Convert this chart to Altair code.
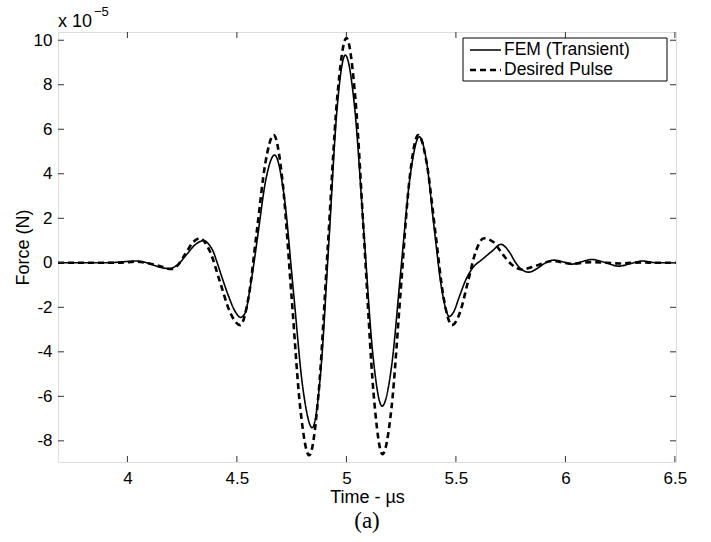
import altair as alt
import pandas as pd

# ---- values (force in units of 1e-5 N, time in µs) ----
fem_t = [3.683, 3.75, 3.85, 3.93, 3.97, 4.04, 4.0775, 4.115, 4.1525, 4.19, 4.23, 4.27, 4.31, 4.35,
         4.37, 4.392, 4.41, 4.434, 4.46, 4.49, 4.517, 4.54, 4.556, 4.578, 4.595, 4.633, 4.672,
         4.715, 4.758, 4.801, 4.844, 4.882, 4.92, 4.957, 4.995, 5.037, 5.079, 5.121, 5.163,
         5.206, 5.248, 5.291, 5.333, 5.367, 5.40, 5.436, 5.47, 5.49, 5.515, 5.545, 5.575, 5.621,
         5.667, 5.705, 5.743, 5.773, 5.803, 5.834, 5.872, 5.91, 5.948, 5.99, 6.03, 6.075, 6.12,
         6.18, 6.244, 6.30, 6.35, 6.42, 6.505]
fem_f = [0.0, 0.0, 0.0, 0.01, 0.04, 0.08, 0.03, -0.09, -0.21, -0.26, -0.08, 0.37, 0.82, 1.0,
         0.85, 0.5, 0.0, -0.72, -1.45, -2.15, -2.45, -2.2, -1.39, 0.0, 1.2, 3.78, 4.84,
         3.05, -1.28, -5.62, -7.41, -4.97, 0.96, 6.89, 9.33, 7.03, 1.45, -4.14, -6.44,
         -4.67, -0.39, 3.89, 5.66, 4.48, 1.62, -1.23, -2.41, -2.2, -1.54, -0.77, -0.25, 0.16,
         0.54, 0.83, 0.5, 0.0, -0.32, -0.42, -0.25, 0.0, 0.12, 0.04, -0.06, 0.05, 0.15,
         0.02, -0.15, -0.03, 0.08, 0.0, 0.0]

des_t = [3.683, 3.75, 3.85, 3.95, 4.0, 4.04, 4.1, 4.15, 4.20, 4.2325, 4.265, 4.2975, 4.33,
         4.376, 4.4225, 4.469, 4.515, 4.553, 4.5915, 4.63, 4.668, 4.7085, 4.749, 4.7895, 4.83,
         4.8725, 4.915, 4.9575, 5.0, 5.041, 5.0825, 5.124, 5.165, 5.206, 5.2465, 5.287, 5.328,
         5.3665, 5.405, 5.4435, 5.482, 5.5185, 5.555, 5.5915, 5.628, 5.671, 5.714, 5.757, 5.80,
         5.87, 5.94, 6.03, 6.12, 6.25, 6.35, 6.43, 6.505]
des_f = [0.0, 0.0, 0.0, 0.0, 0.02, 0.05, -0.03, -0.15, -0.28, -0.08, 0.41, 0.90, 1.1,
         0.53, -0.85, -2.23, -2.8, -1.55, 1.47, 4.49, 5.74, 3.64, -1.45, -6.55, -8.65,
         -5.91, 0.72, 7.36, 10.1, 7.37, 0.75, -5.87, -8.6, -6.51, -1.43, 3.65, 5.74,
         4.49, 1.47, -1.55, -2.8, -2.23, -0.85, 0.53, 1.1, 0.93, 0.38, -0.1, -0.3,
         -0.12, 0.08, -0.04, 0.03, -0.03, 0.02, 0.0, 0.0]

series_names = ["FEM (Transient)", "Desired Pulse"]
x_ticks = [4, 4.5, 5, 5.5, 6, 6.5]
y_ticks = [-8, -6, -4, -2, 0, 2, 4, 6, 8, 10]
x_title = "Time - µs"
y_title = "Force (N)"
exp_base = ["x 10"]
exp_power = ["−5"]
panel_label = ["(a)"]

W, H = 618, 430
FONT = "Liberation Sans"
AX = "#333333"
DASH = {series_names[0]: [1, 0], series_names[1]: [6, 4]}
WIDTH = {series_names[0]: 1.6, series_names[1]: 2.6}

lines = pd.concat([
    pd.DataFrame({"t": fem_t, "f": fem_f, "s": series_names[0]}),
    pd.DataFrame({"t": des_t, "f": des_f, "s": series_names[1]}),
])

xs = alt.Scale(domain=[3.683, 6.505], nice=False, zero=False)
ys = alt.Scale(domain=[-8.95, 10.37], nice=False, zero=False)
dash_scale = alt.Scale(domain=series_names, range=[DASH[s] for s in series_names])
width_scale = alt.Scale(domain=series_names, range=[WIDTH[s] for s in series_names])

num_expr = "datum.value < 0 ? '-' + format(-datum.value, '~g') : format(datum.value, '~g')"

curve = alt.Chart(lines).mark_line(interpolate="monotone", color="black").encode(
    x=alt.X("t:Q", scale=xs,
            axis=alt.Axis(values=x_ticks, title=x_title, labelExpr=num_expr, tickSize=0,
                          domain=False, grid=False, labelPadding=8, titlePadding=2,
                          labelFontSize=17, titleFontSize=18, labelFont=FONT, titleFont=FONT,
                          labelColor="black", titleColor="black", titleFontWeight="normal")),
    y=alt.Y("f:Q", scale=ys,
            axis=alt.Axis(values=y_ticks, title=y_title, labelExpr=num_expr, tickSize=0,
                          domain=False, grid=False, labelPadding=6, titlePadding=1,
                          labelFontSize=17, titleFontSize=18, labelFont=FONT, titleFont=FONT,
                          labelColor="black", titleColor="black", titleFontWeight="normal")),
    strokeDash=alt.StrokeDash("s:N", scale=dash_scale, legend=None),
    strokeWidth=alt.StrokeWidth("s:N", scale=width_scale, legend=None),
)

xt = pd.DataFrame({"t": x_ticks})
yt = pd.DataFrame({"f": y_ticks})
tick_style = dict(color=AX, strokeWidth=1)
bottom = alt.Chart(xt).mark_rule(**tick_style).encode(x=alt.X("t:Q", scale=xs), y=alt.value(H), y2=alt.value(H - 6))
top = alt.Chart(xt).mark_rule(**tick_style).encode(x=alt.X("t:Q", scale=xs), y=alt.value(0), y2=alt.value(6))
left = alt.Chart(yt).mark_rule(**tick_style).encode(y=alt.Y("f:Q", scale=ys), x=alt.value(0), x2=alt.value(6))
right = alt.Chart(yt).mark_rule(**tick_style).encode(y=alt.Y("f:Q", scale=ys), x=alt.value(W), x2=alt.value(W - 6))

# ---- legend (box, line samples, labels) placed in the upper right corner ----
LX, LY, LW, LH = 405, 6, 204, 43
legend_box = alt.Chart(pd.DataFrame({"k": [0]})).mark_rect(
    fill="white", stroke="black", strokeWidth=1
).encode(x=alt.value(LX), x2=alt.value(LX + LW), y=alt.value(LY), y2=alt.value(LY + LH))
legend_items = []
for i, name in enumerate(series_names):
    yy = LY + 12 + i * 20
    legend_items.append(
        alt.Chart(pd.DataFrame({"s": [name]})).mark_rule(
            color="black", strokeWidth=WIDTH[name], strokeDash=DASH[name]
        ).encode(x=alt.value(LX + 7), x2=alt.value(LX + 38), y=alt.value(yy), y2=alt.value(yy))
    )
    legend_items.append(
        alt.Chart(pd.DataFrame({"s": [name]})).mark_text(
            align="left", baseline="middle", font=FONT, fontSize=17.5, color="black"
        ).encode(text="s:N", x=alt.value(LX + 41), y=alt.value(yy))
    )

expo1 = alt.Chart(pd.DataFrame({"txt": exp_base})).mark_text(
    align="left", baseline="alphabetic", font=FONT, fontSize=18, color="black"
).encode(text="txt:N", x=alt.value(0), y=alt.value(-5))
expo2 = alt.Chart(pd.DataFrame({"txt": exp_power})).mark_text(
    align="left", baseline="alphabetic", font=FONT, fontSize=13, color="black"
).encode(text="txt:N", x=alt.value(36), y=alt.value(-16))
label = alt.Chart(pd.DataFrame({"txt": panel_label})).mark_text(
    align="center", baseline="middle", font="Liberation Serif", fontSize=23, color="black"
).encode(text="txt:N", x=alt.value(W / 2), y=alt.value(H + 59))

chart = alt.layer(curve, bottom, top, left, right, legend_box, *legend_items,
                  expo1, expo2, label).properties(
    width=W, height=H,
    autosize=alt.AutoSizeParams(type="none"),
    padding={"left": 58, "top": 32, "right": 35, "bottom": 80},
).configure_view(stroke=AX, strokeWidth=1.2).configure(background="white")

chart.save("out.html", embed_options={"renderer": "svg", "actions": False})
